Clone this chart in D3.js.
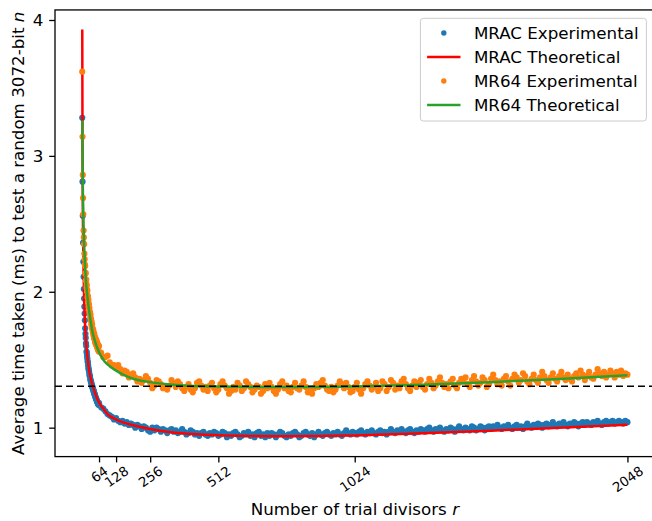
<!DOCTYPE html>
<html>
<head>
<meta charset="utf-8">
<script src="https://cdn.jsdelivr.net/npm/d3@7/dist/d3.min.js"></script>
<style>
  body { margin: 0; background: #fff; }
  text { font-family: "DejaVu Sans", sans-serif; fill: #000; }
</style>
</head>
<body>
<script>
// trial divisor counts: every r up to 63, then every 8th
var lowR = d3.range(1, 64);
var highR = d3.range(64, 2049, 8);
var expR = lowR.concat(highR);

// average time (ms)
var mracExp = [
  3.28, 2.81, 2.56, 2.36, 2.22, 2.11, 2.02, 1.95, 1.89, 1.84, 1.79,
  1.73, 1.69, 1.66, 1.62, 1.60, 1.56, 1.55, 1.53, 1.51, 1.49,
  1.48, 1.46, 1.44, 1.43, 1.42, 1.41, 1.39, 1.38, 1.38, 1.36,
  1.35, 1.34, 1.34, 1.33, 1.32, 1.31, 1.31, 1.30, 1.29, 1.29,
  1.28, 1.27, 1.27, 1.26, 1.25, 1.25, 1.24, 1.24, 1.23, 1.22,
  1.22, 1.21, 1.21, 1.20, 1.20, 1.19, 1.19, 1.18, 1.18, 1.17,
  1.17, 1.17,
  // r = 64, 72, ... 2048
  1.18, 1.15, 1.14, 1.12, 1.10, 1.09, 1.08, 1.06,
  1.07, 1.05, 1.04, 1.05, 1.03, 1.04, 1.02, 1.03,
  1.02, 1.00, 1.02, 1.01, 0.99, 1.01, 1.00, 0.98,
  0.97, 1.00, 0.98, 1.00, 0.99, 0.97, 0.99, 0.98,
  0.96, 0.98, 0.99, 0.97, 0.98, 0.96, 0.97, 0.99,
  0.97, 0.95, 0.96, 0.98, 0.97, 0.95, 0.96, 0.94,
  0.96, 0.97, 0.95, 0.94, 0.96, 0.95, 0.97, 0.96,
  0.94, 0.95, 0.97, 0.96, 0.93, 0.95, 0.94, 0.96,
  0.97, 0.95, 0.93, 0.94, 0.96, 0.95, 0.97, 0.94,
  0.95, 0.93, 0.96, 0.97, 0.94, 0.95, 0.93, 0.96,
  0.94, 0.96, 0.95, 0.93, 0.95, 0.97, 0.96, 0.94,
  0.93, 0.95, 0.94, 0.96, 0.97, 0.95, 0.93, 0.94,
  0.96, 0.97, 0.95, 0.94, 0.96, 0.93, 0.95, 0.97,
  0.95, 0.94, 0.96, 0.97, 0.95, 0.94, 0.96, 0.95,
  0.97, 0.95, 0.94, 0.96, 0.98, 0.96, 0.95, 0.97,
  0.96, 0.95, 0.97, 0.98, 0.96, 0.95, 0.97, 0.96,
  0.98, 0.96, 0.95, 0.97, 0.98, 0.96, 0.97, 0.95,
  0.97, 0.99, 0.97, 0.96, 0.98, 0.97, 0.99, 0.97,
  0.96, 0.98, 0.99, 0.97, 0.96, 0.98, 0.97, 0.99,
  0.98, 0.97, 0.99, 1.00, 0.98, 0.97, 0.99, 0.98,
  1.00, 0.98, 0.97, 0.99, 0.98, 1.00, 0.99, 0.97,
  0.99, 1.01, 0.99, 0.98, 1.00, 0.99, 0.98, 1.01,
  1.00, 0.98, 0.99, 1.01, 1.00, 0.98, 1.00, 1.01,
  0.99, 1.01, 1.00, 1.02, 1.00, 0.99, 1.01, 1.00,
  1.02, 1.00, 0.99, 1.01, 1.02, 1.00, 1.01, 0.99,
  1.01, 1.03, 1.01, 1.00, 1.02, 1.01, 1.03, 1.02,
  1.00, 1.02, 1.03, 1.01, 1.02, 1.04, 1.02, 1.01,
  1.03, 1.02, 1.04, 1.02, 1.01, 1.03, 1.02, 1.04,
  1.03, 1.01, 1.03, 1.04, 1.02, 1.04, 1.03, 1.02,
  1.04, 1.03, 1.05, 1.03, 1.02, 1.04, 1.05, 1.03,
  1.04, 1.05, 1.03, 1.04, 1.05, 1.04, 1.03, 1.05,
  1.04
];

var mr64Exp = [
  3.62, 3.14, 2.86, 2.69, 2.57, 2.45, 2.40, 2.35, 2.28, 2.24, 2.20,
  2.19, 2.13, 2.14, 2.08, 2.09, 2.03, 2.05, 2.00, 2.01, 1.96,
  1.97, 1.92, 1.94, 1.89, 1.91, 1.86, 1.88, 1.84, 1.85, 1.81,
  1.83, 1.79, 1.80, 1.76, 1.78, 1.74, 1.76, 1.72, 1.73, 1.70,
  1.72, 1.68, 1.70, 1.66, 1.69, 1.65, 1.67, 1.63, 1.66, 1.62,
  1.65, 1.61, 1.64, 1.60, 1.63, 1.59, 1.62, 1.58, 1.61, 1.57,
  1.60, 1.56,
  // r = 64, 72, ... 2048
  1.60, 1.55, 1.52, 1.52, 1.53, 1.48, 1.46, 1.46,
  1.44, 1.46, 1.43, 1.40, 1.42, 1.41, 1.37, 1.39,
  1.40, 1.37, 1.34, 1.36, 1.33, 1.35, 1.38, 1.36,
  1.33, 1.29, 1.31, 1.35, 1.34, 1.32, 1.29, 1.30,
  1.28, 1.31, 1.35, 1.33, 1.30, 1.34, 1.32, 1.29,
  1.27, 1.30, 1.32, 1.28, 1.26, 1.29, 1.33, 1.34,
  1.31, 1.28, 1.30, 1.27, 1.31, 1.33, 1.29, 1.26,
  1.28, 1.32, 1.34, 1.31, 1.29, 1.25, 1.27, 1.30,
  1.28, 1.33, 1.31, 1.27, 1.29, 1.34, 1.32, 1.30,
  1.26, 1.28, 1.31, 1.30, 1.25, 1.27, 1.32, 1.29,
  1.33, 1.30, 1.27, 1.25, 1.28, 1.32, 1.34, 1.29,
  1.31, 1.27, 1.26, 1.30, 1.33, 1.29, 1.28, 1.31,
  1.34, 1.30, 1.26, 1.28, 1.25, 1.29, 1.32, 1.30,
  1.33, 1.35, 1.31, 1.28, 1.27, 1.30, 1.26, 1.28,
  1.31, 1.34, 1.32, 1.29, 1.33, 1.30, 1.26, 1.27,
  1.30, 1.33, 1.28, 1.25, 1.29, 1.32, 1.34, 1.31,
  1.28, 1.30, 1.33, 1.27, 1.29, 1.34, 1.32, 1.27,
  1.30, 1.35, 1.33, 1.28, 1.31, 1.29, 1.34, 1.36,
  1.32, 1.29, 1.27, 1.31, 1.34, 1.30, 1.33, 1.35,
  1.30, 1.28, 1.32, 1.36, 1.33, 1.29, 1.31, 1.34,
  1.37, 1.33, 1.30, 1.32, 1.29, 1.34, 1.36, 1.31,
  1.29, 1.33, 1.36, 1.34, 1.37, 1.32, 1.30, 1.35,
  1.38, 1.34, 1.31, 1.33, 1.37, 1.35, 1.30, 1.32,
  1.36, 1.39, 1.35, 1.32, 1.34, 1.31, 1.36, 1.38,
  1.34, 1.31, 1.36, 1.39, 1.37, 1.33, 1.35, 1.40,
  1.38, 1.34, 1.32, 1.36, 1.39, 1.35, 1.33, 1.37,
  1.41, 1.38, 1.35, 1.33, 1.37, 1.40, 1.36, 1.34,
  1.38, 1.41, 1.37, 1.35, 1.39, 1.36, 1.34, 1.38,
  1.40, 1.37, 1.42, 1.39, 1.35, 1.38, 1.41, 1.37,
  1.36, 1.39, 1.43, 1.40, 1.38, 1.41, 1.37, 1.39,
  1.42, 1.40, 1.37, 1.41, 1.39, 1.42, 1.38, 1.40,
  1.39
];

// theoretical curves, read at these r values
var theoR = [1, 2, 3, 4, 6, 8, 10, 12, 16, 20, 24, 32, 40, 48, 64, 80, 96, 128, 160, 192,
             256, 320, 384, 448, 512, 640, 768, 896, 1024, 1280, 1536, 1792, 2048];
var mracTheo = [3.93, 3.05, 2.65, 2.42, 2.15, 1.95, 1.83, 1.74, 1.61, 1.53, 1.46, 1.37, 1.31, 1.26,
                1.185, 1.14, 1.10, 1.06, 1.035, 1.018, 0.99, 0.97, 0.957, 0.949, 0.944, 0.939,
                0.937, 0.939, 0.943, 0.958, 0.978, 1.0, 1.022];
var mr64Theo = [3.26, 2.98, 2.80, 2.66, 2.48, 2.35, 2.25, 2.17, 2.05, 1.97, 1.90, 1.79, 1.70, 1.64,
                1.555, 1.50, 1.465, 1.42, 1.385, 1.36, 1.335, 1.32, 1.31, 1.305, 1.302, 1.30,
                1.30, 1.30, 1.303, 1.315, 1.335, 1.358, 1.385];

var refLevel = 1.305;
var xTicks = [64, 128, 256, 512, 1024, 2048];
var yTicks = [1, 2, 3, 4];

var seriesNames = ["MRAC Experimental", "MRAC Theoretical", "MR64 Experimental", "MR64 Theoretical"];
var seriesColors = ["#1f77b4", "#ff0000", "#ff7f0e", "#2ca02c"];

var width = 652, height = 521;
var plot = {left: 55, right: 654.7, top: 9.94, bottom: 456.6};

var svg = d3.select("body").append("svg")
    .attr("width", width)
    .attr("height", height);

var x = d3.scaleLinear().domain([-101.35, 2150.35]).range([plot.left, plot.right]);
var y = d3.scaleLinear().domain([0.787, 4.074]).range([plot.bottom, plot.top]);

function pairs(xs, ys) {
    var n = Math.min(xs.length, ys.length);
    return d3.range(n).map(function(i) { return [xs[i], ys[i]]; });
}

var line = d3.line()
    .x(function(d) { return x(d[0]); })
    .y(function(d) { return y(d[1]); })
    .curve(d3.curveMonotoneX);

function dots(data, color) {
    svg.append("g").selectAll("circle")
        .data(data)
        .enter()
        .append("circle")
        .attr("cx", function(d) { return x(d[0]); })
        .attr("cy", function(d) { return y(d[1]); })
        .attr("r", 3.1)
        .attr("fill", color);
}

function curve(data, color) {
    svg.append("path")
        .datum(data)
        .attr("d", line)
        .attr("fill", "none")
        .attr("stroke", color)
        .attr("stroke-width", 2.5);
}

// marks, in the legend's order
dots(pairs(expR, mracExp), seriesColors[0]);
curve(pairs(theoR, mracTheo), seriesColors[1]);
dots(pairs(expR, mr64Exp), seriesColors[2]);
curve(pairs(theoR, mr64Theo), seriesColors[3]);

// reference line
svg.append("line")
    .attr("x1", plot.left).attr("x2", plot.right)
    .attr("y1", y(refLevel)).attr("y2", y(refLevel))
    .attr("stroke", "#000")
    .attr("stroke-width", 1.6)
    .attr("stroke-dasharray", "7,4");

// frame
svg.append("rect")
    .attr("x", plot.left).attr("y", plot.top)
    .attr("width", plot.right - plot.left)
    .attr("height", plot.bottom - plot.top)
    .attr("fill", "none")
    .attr("stroke", "#000")
    .attr("stroke-width", 1.3);

// x axis
var xAxis = svg.append("g")
    .attr("transform", "translate(0," + plot.bottom + ")")
    .call(d3.axisBottom(x).tickValues(xTicks).tickFormat(d3.format("d"))
        .tickSize(5.8).tickSizeOuter(0));
xAxis.select(".domain").remove();
xAxis.selectAll(".tick line").attr("stroke", "#000").attr("stroke-width", 1.3);
xAxis.selectAll(".tick text")
    .attr("font-size", 13.3)
    .attr("font-family", "DejaVu Sans")
    .attr("y", null).attr("dy", null)
    .attr("text-anchor", "middle")
    .attr("dominant-baseline", "central")
    .attr("transform", function() {
        var len = this.getComputedTextLength();
        var a = 35 * Math.PI / 180;
        var cy = 9 + (len * Math.sin(a) + 9.7 * Math.cos(a)) / 2;
        return "translate(0," + cy + ") rotate(-35)";
    });

// y axis
var yAxis = svg.append("g")
    .attr("transform", "translate(" + plot.left + ",0)")
    .call(d3.axisLeft(y).tickValues(yTicks).tickFormat(d3.format("d"))
        .tickSize(5.8).tickPadding(5.8).tickSizeOuter(0));
yAxis.select(".domain").remove();
yAxis.selectAll(".tick line").attr("stroke", "#000").attr("stroke-width", 1.3);
yAxis.selectAll(".tick text")
    .attr("font-size", 16.7)
    .attr("font-family", "DejaVu Sans");

// axis labels
var xl = svg.append("text")
    .attr("x", (plot.left + plot.right) / 2)
    .attr("y", 515)
    .attr("text-anchor", "middle")
    .attr("font-size", 16.7);
xl.append("tspan").text("Number of trial divisors ");
xl.append("tspan").attr("font-style", "italic").text("r");

var yl = svg.append("text")
    .attr("transform", "translate(24," + (plot.top + plot.bottom) / 2 + ") rotate(-90)")
    .attr("text-anchor", "middle")
    .attr("font-size", 16.7);
yl.append("tspan").text("Average time taken (ms) to test a random 3072-bit ");
yl.append("tspan").attr("font-style", "italic").text("n");

// legend
var legend = svg.append("g");
legend.append("rect")
    .attr("x", 420.4).attr("y", 18.3)
    .attr("width", 226).attr("height", 102.7)
    .attr("rx", 3).attr("ry", 3)
    .attr("fill", "#fff").attr("fill-opacity", 0.8)
    .attr("stroke", "#cccccc").attr("stroke-width", 1);

var rowY = [33, 57, 81, 105];
seriesNames.forEach(function(name, i) {
    if (i % 2 === 0) {
        legend.append("circle")
            .attr("cx", 443.8).attr("cy", rowY[i])
            .attr("r", 2.7)
            .attr("fill", seriesColors[i]);
    } else {
        legend.append("line")
            .attr("x1", 427.1).attr("x2", 460.5)
            .attr("y1", rowY[i]).attr("y2", rowY[i])
            .attr("stroke", seriesColors[i])
            .attr("stroke-width", 2.5);
    }
    legend.append("text")
        .attr("x", 473.9).attr("y", rowY[i])
        .attr("dominant-baseline", "central")
        .attr("font-size", 16.7)
        .text(name);
});
</script>
</body>
</html>
